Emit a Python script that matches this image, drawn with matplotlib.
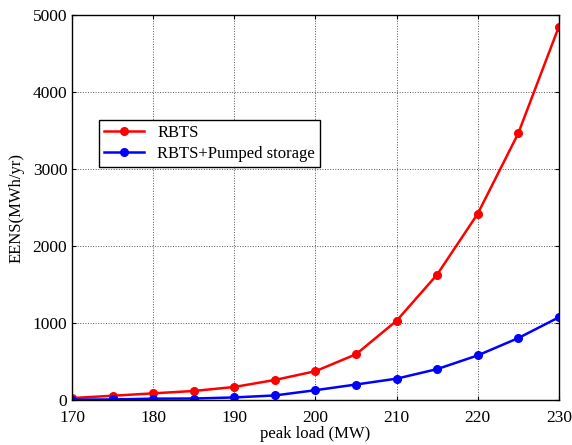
import numpy as np
import matplotlib.pyplot as plt

plt.rcParams['font.family'] = ['Liberation Serif', 'DejaVu Serif']

load = [170, 175, 180, 185, 190, 195, 200, 205, 210, 215, 220, 225, 230]
eens_rbts = [26, 56, 87, 118, 170, 261, 375, 595, 1030, 1630, 2420, 3465, 4850]
eens_pumped = [5, 8, 18, 20, 34, 60, 128, 202, 278, 402, 580, 805, 1075]

fig = plt.figure(figsize=(5.72, 4.45), dpi=100)
ax = fig.add_axes([0.126, 0.101, 0.851, 0.865])

ax.plot(load, eens_rbts, color='red', marker='o', markersize=5.5, linewidth=1.8, label='RBTS')
ax.plot(load, eens_pumped, color='blue', marker='o', markersize=5.5, linewidth=1.8,
        label='RBTS+Pumped storage')

ax.set_xlim(170, 230)
ax.set_ylim(0, 5000)
ax.set_xticks(np.arange(170, 231, 10))
ax.set_yticks(np.arange(0, 5001, 1000))
ax.tick_params(direction='in', top=True, right=True, labelsize=12.5, length=3)
ax.tick_params(axis='x', pad=7)
ax.grid(color='#555555', linestyle=':', linewidth=0.7)
for s in ax.spines.values():
    s.set_linewidth(1.0)

ax.set_xlabel('peak load (MW)', fontsize=12, labelpad=0)
ax.set_ylabel('EENS(MWh/yr)', fontsize=12, labelpad=6)

leg = ax.legend(loc='upper left', bbox_to_anchor=(0.055, 0.728), fontsize=12,
                fancybox=False, edgecolor='black', framealpha=1,
                handlelength=2.4, borderpad=0.3, labelspacing=0.3, borderaxespad=0)
leg.get_frame().set_linewidth(1.0)

fig.savefig('out.png', dpi=100)
